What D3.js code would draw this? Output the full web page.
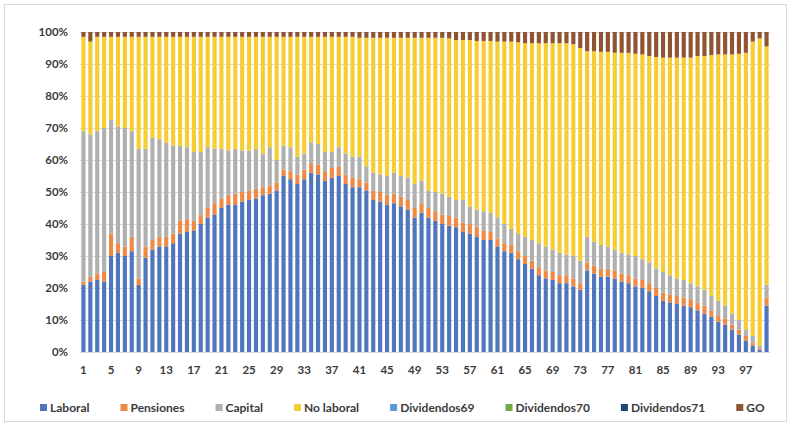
<!DOCTYPE html>
<html><head><meta charset="utf-8">
<script src="https://cdn.jsdelivr.net/npm/d3@7"></script>
<style>
html,body{margin:0;padding:0;background:#fff;}
svg{display:block;}
text{font-family:Lato,"Liberation Sans",sans-serif;font-weight:bold;fill:#3b3b3b;}
</style></head>
<body>
<svg id="chart" width="792" height="426"></svg>
<script>
const categories = d3.range(1, 101);
const seriesNames = ["Laboral","Pensiones","Capital","No laboral","Dividendos69","Dividendos70","Dividendos71","GO"];
const laboral = [21,22,22.5,22,30,31,30,31.5,21,29.5,32,33,33,34,37,37.5,38,40,42,43,45,46,46,47,47.5,48,49,49.5,50.5,55,54,52.5,54,56,55.5,53.5,54.5,55,52.5,51.5,51.5,50.5,47.5,47,46,46.5,45.5,44.5,42,43.5,42,41,40,39.5,39,37.5,37,36,35,35,33,31.5,31,29,27.5,26,24,23,22.5,21.5,21.5,20.5,19.5,25.5,24.5,23.5,23.5,23,22,21.5,20.5,20,19,17.5,16,15.5,15,14.5,14,13,12,11,9.5,8.5,7,5.5,3.5,2,0.6,14.5];
const pensiones = [1,1.5,2,3,7,3,3,4.5,2,3.5,3,3,3,3,4,4,3,3,3,3.5,3,3,3.5,3,3,3,2.5,2.5,2.5,2,2.5,3,3,3,3,3,3,3,3,3,2.5,2.5,3,3,3,3,3,3,3,3,3,3,3,3,3,3,3,3,3,2.5,2.5,2.5,2.5,2.5,2.5,2.5,2.5,2.5,2.5,2.5,2.5,2.5,2,2.5,2.5,2.5,2.5,2.5,2.5,2.5,2.5,2.5,2.5,2.5,2.5,2.5,2.5,2.5,2.5,2.5,2.5,2,2,2,1.5,1.5,1.5,1,0.4,2.5];
const capital = [47,44.5,44.5,45,35.5,36.5,37,33,40.5,30.5,32,30.5,29.5,27.5,23.5,22.5,21.5,19.5,19,17,15.5,14,14,13,12.5,12.5,10.5,12,7,7.5,7.5,5.5,5,6.5,6.5,6,5,6,6.5,6.5,7,5,5.5,5.5,6,6.5,6.5,7,7.5,7,5.5,6,6.5,6,5.5,7,5.5,5.5,6,6,6.5,6,5,5.5,6,6.5,7.5,7.5,7,7,6.5,7,7,8,7.5,7.5,7,6.5,6.5,6.5,7,6.5,6.5,6,6.5,6,5.5,5.5,5,5,5,4.5,4.5,4,3.5,3,2,2,1,4];
const noLaboral = [29.5,29,29.5,28.5,26,28,28.5,29.5,35,35,31.5,32,33,34,34,34.5,36,36,34.5,35,35,35.5,35,35.5,35.5,35,36.5,34.5,38.5,34,34.5,37.5,36.5,33,33.5,36,36,34.5,36.5,37.5,37.2,40.2,42.2,42.7,43.2,42.2,43.2,43.7,45.7,44.7,47.7,48.2,48.7,49.5,50,50,52,52.7,53.2,53.7,55,57,58.5,59.8,60.5,61.5,62.5,63.5,64.5,65.5,66,66.2,66.5,58,59.5,60.3,60.8,61.5,62.5,63,63.2,64,64.5,66.2,67,68,69,69.5,70.5,72,73,75.3,77,78.5,81,83.2,86.5,92,96,74.5];
const dividendos69 = new Array(100).fill(0);
const dividendos70 = new Array(100).fill(0);
const dividendos71 = new Array(100).fill(0);
const go = [1.5,3,1.5,1.5,1.5,1.5,1.5,1.5,1.5,1.5,1.5,1.5,1.5,1.5,1.5,1.5,1.5,1.5,1.5,1.5,1.5,1.5,1.5,1.5,1.5,1.5,1.5,1.5,1.5,1.5,1.5,1.5,1.5,1.5,1.5,1.5,1.5,1.5,1.5,1.5,1.8,1.8,1.8,1.8,1.8,1.8,1.8,1.8,1.8,1.8,1.8,1.8,1.8,2,2.5,2.5,2.5,2.8,2.8,2.8,3,3,3,3.2,3.5,3.5,3.5,3.5,3.5,3.5,3.5,3.8,5,6,6,6.2,6.2,6.5,6.5,6.5,6.8,7,7.5,7.8,8,8,8,8,8,7.5,7.5,7.2,7,7,7,6.8,6.5,3,2,4.5];
const yTicks = d3.range(0, 1.0001, 0.1);
const xTickLabels = d3.range(1, 98, 4);
const colors = ["#4f76bd","#ee8a45","#b0b0b0","#f6cd33","#5b9bd5","#70ad47","#264478","#8f5433"];

const seriesValues = [laboral,pensiones,capital,noLaboral,dividendos69,dividendos70,dividendos71,go];
const rows = categories.map((c,i)=>{const r={cat:c}; seriesNames.forEach((s,j)=>r[s]=seriesValues[j][i]); return r;});

const svg = d3.select("#chart");
const W=792,H=426;
const m={left:80,right:22,top:32,bottom:74};
const x = d3.scaleBand().domain(categories).range([m.left, W-m.right]).paddingInner(0.4).paddingOuter(0.2);
const y = d3.scaleLinear().domain([0,1]).range([H-m.bottom, m.top]);

svg.append("rect").attr("x",4.5).attr("y",4.5).attr("width",782).attr("height",417).attr("fill","#fff").attr("stroke","#d9d9d9");

// gridlines
svg.append("g").selectAll("line").data(yTicks).join("line")
  .attr("x1",m.left).attr("x2",W-m.right)
  .attr("y1",d=>Math.round(y(d))+0.5).attr("y2",d=>Math.round(y(d))+0.5)
  .attr("stroke","#d9d9d9");

const stack = d3.stack().keys(seriesNames).offset(d3.stackOffsetExpand);
const stacked = stack(rows);
svg.append("g").selectAll("g").data(stacked).join("g")
  .attr("fill",(d,i)=>colors[i])
  .selectAll("rect").data(d=>d).join("rect")
  .attr("x",d=>x(d.data.cat)).attr("width",x.bandwidth())
  .attr("y",d=>y(d[1])).attr("height",d=>Math.max(0,y(d[0])-y(d[1])));

// y axis
const ya = svg.append("g").attr("transform",`translate(${m.left},0)`)
  .call(d3.axisLeft(y).tickValues(yTicks).tickFormat(d3.format(".0%")).tickSize(0).tickPadding(12));
ya.select(".domain").remove();
ya.selectAll("text").attr("font-size",11.5).style("font-family","Lato, sans-serif").style("font-weight","bold").attr("fill","#3b3b3b");

// x axis
const xa = svg.append("g").attr("transform",`translate(0,${H-m.bottom})`)
  .call(d3.axisBottom(x).tickValues(xTickLabels).tickSize(0).tickPadding(14));
xa.select(".domain").attr("stroke","#d9d9d9");
xa.selectAll("text").attr("font-size",11.5).style("font-family","Lato, sans-serif").style("font-weight","bold").attr("fill","#3b3b3b");

// legend
const lg = svg.append("g");
const items = lg.selectAll("g").data(seriesNames).join("g");
items.append("rect").attr("width",7).attr("height",7).attr("y",-4).attr("fill",(d,i)=>colors[i]);
items.append("text").attr("x",10).attr("y",0).attr("dy","0.32em").attr("font-size",12).text(d=>d);
const widths = [];
items.each(function(){ widths.push(this.getBBox().width); });
const span0=40, span1=765;
const gap = ((span1-span0) - d3.sum(widths))/(seriesNames.length-1);
let cx = span0;
items.attr("transform",(d,i)=>{const t=`translate(${cx},408)`; cx += widths[i]+gap; return t;});
</script>
</body></html>
